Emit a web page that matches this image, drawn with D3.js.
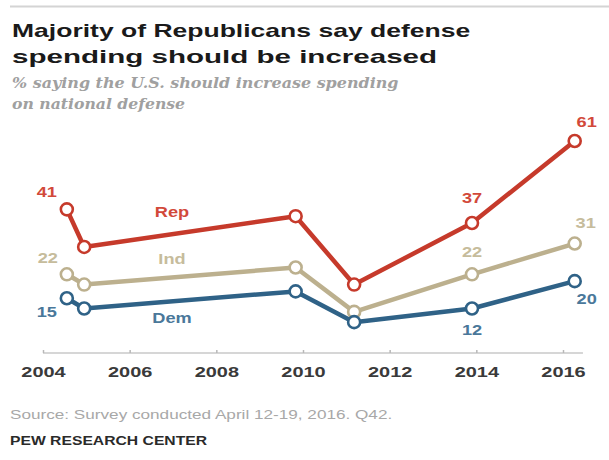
<!DOCTYPE html>
<html>
<head>
<meta charset="utf-8">
<script src="https://cdn.jsdelivr.net/npm/d3@7"></script>
<style>
  html, body { margin: 0; padding: 0; background: #fff; }
  svg { display: block; }
</style>
</head>
<body>
<svg id="chart" width="609" height="460"></svg>
<script>
// Survey dates (fractional years) and share saying defense spending should be increased
const surveyDates = [2004.55, 2004.95, 2009.83, 2011.18, 2013.9, 2016.27];
const repValues = [41, 30, 39, 19, 37, 61];
const indValues = [22, 19, 24, 11, 22, 31];
const demValues = [15, 12, 17, 8, 12, 20];
const seriesNames = ["Rep", "Ind", "Dem"];
const tickYears = [2004, 2006, 2008, 2010, 2012, 2014, 2016];
// which points carry a value label
const labelledPoints = [0, 4, 5];

const titleLines = ["Majority of Republicans say defense", "spending should be increased"];
const subtitleLines = ["% saying the U.S. should increase spending", "on national defense"];
const sourceText = "Source: Survey conducted April 12-19, 2016. Q42.";
const creditText = "PEW RESEARCH CENTER";

const svg = d3.select("#chart");
const SX = 1.3; // horizontal glyph stretch

const style = {
  Rep: { line: "#c63a2b", label: "#d2493a",
         valueOffsets: [[-20, -12], [0, -20], [12, -14]], nameOffset: -17 },
  Ind: { line: "#bcb08e", label: "#c6bc9c",
         valueOffsets: [[-19, -11], [0, -17], [11, -16]], nameOffset: -13 },
  Dem: { line: "#2f6287", label: "#4a789a",
         valueOffsets: [[-20, 19], [0, 27], [12, 23]], nameOffset: 22 }
};
const valuesBySeries = { Rep: repValues, Ind: indValues, Dem: demValues };

function addText(parent, x, y, str, opts) {
  const t = parent.append("text")
    .attr("transform", `translate(${x},${y}) scale(${opts.sx || SX},1)`)
    .attr("text-anchor", opts.anchor || "start")
    .attr("font-family", opts.family || "'Liberation Sans', Arial, sans-serif")
    .attr("font-size", opts.size)
    .attr("font-weight", opts.weight || "normal")
    .attr("font-style", opts.italic ? "italic" : "normal")
    .attr("fill", opts.fill || "#000")
    .text(str);
  if (opts.width) {
    const w = t.node().getComputedTextLength();
    t.attr("transform", `translate(${x},${y}) scale(${opts.width / w},1)`);
  }
  return t;
}

// top rule
svg.append("line")
  .attr("x1", 10).attr("x2", 609).attr("y1", 6.5).attr("y2", 6.5)
  .attr("stroke", "#d4d4d4").attr("stroke-width", 2);

// title
titleLines.forEach((s, i) => addText(svg, 12, 37 + i * 26, s, {
  size: 18, weight: "bold", fill: "#1a1a1a", width: i === 0 ? 458 : 425
}));

// subtitle
subtitleLines.forEach((s, i) => addText(svg, 12, 88 + i * 21, s, {
  size: 14, weight: "bold", italic: true, fill: "#a0a0a0",
  family: "'DejaVu Serif', 'Liberation Serif', serif", width: i === 0 ? 386 : 173
}));

// scales
const x = d3.scaleLinear().domain([2004, 2016]).range([43, 563]);
const y = d3.scaleLinear().domain([0, 61]).range([349.5, 141]);
const axisY = 353;

// x axis
const axisG = svg.append("g").attr("transform", `translate(0,${axisY})`);
axisG.call(d3.axisBottom(x).tickValues(tickYears).tickFormat(d3.format("d"))
  .tickSizeInner(-3).tickSizeOuter(0).tickPadding(0));
axisG.select(".domain").attr("stroke", "#c8c8c8").attr("stroke-width", 1.5)
  .attr("d", `M${x(2004)},0H${x(2016.46)}`);
axisG.selectAll(".tick line").attr("stroke", "#b8b8b8").attr("stroke-width", 1.5);
axisG.selectAll(".tick text").remove();
axisG.selectAll(".tick").each(function (d) {
  addText(d3.select(this), 0, 24, String(d), {
    size: 15, weight: "bold", fill: "#3a3a3a", anchor: "middle", sx: 1.33
  });
});

// lines and markers
const line = d3.line().x((d, i) => x(surveyDates[i])).y(d => y(d));

seriesNames.forEach(name => {
  const vals = valuesBySeries[name];
  const st = style[name];
  const g = svg.append("g");
  g.append("path").datum(vals)
    .attr("d", line)
    .attr("fill", "none")
    .attr("stroke", st.line)
    .attr("stroke-width", 4.5)
    .attr("stroke-linejoin", "round");
  g.selectAll("circle").data(vals).join("circle")
    .attr("cx", (d, i) => x(surveyDates[i]))
    .attr("cy", d => y(d))
    .attr("r", 6)
    .attr("fill", "#fff")
    .attr("stroke", st.line)
    .attr("stroke-width", 2.6);

  // value labels
  labelledPoints.forEach((idx, k) => {
    const [dx, dy] = st.valueOffsets[k];
    addText(g, x(surveyDates[idx]) + dx, y(vals[idx]) + dy, String(vals[idx]), {
      size: 14, weight: "bold", fill: st.label, anchor: "middle", sx: 1.3
    });
  });

  // series name on the 2004-2009 segment
  const t = 2007;
  const f = (t - surveyDates[1]) / (surveyDates[2] - surveyDates[1]);
  const ly = y(vals[1] + f * (vals[2] - vals[1]));
  addText(g, x(t) - 1, ly + st.nameOffset, name, {
    size: 14, weight: "bold", fill: st.label, anchor: "middle", sx: 1.3
  });
});

// footer
addText(svg, 10, 419, sourceText, { size: 12, fill: "#a8a8a8", width: 382 });
addText(svg, 10, 445, creditText, { size: 12, weight: "bold", fill: "#2a2a2a", width: 197 });
</script>
</body>
</html>
